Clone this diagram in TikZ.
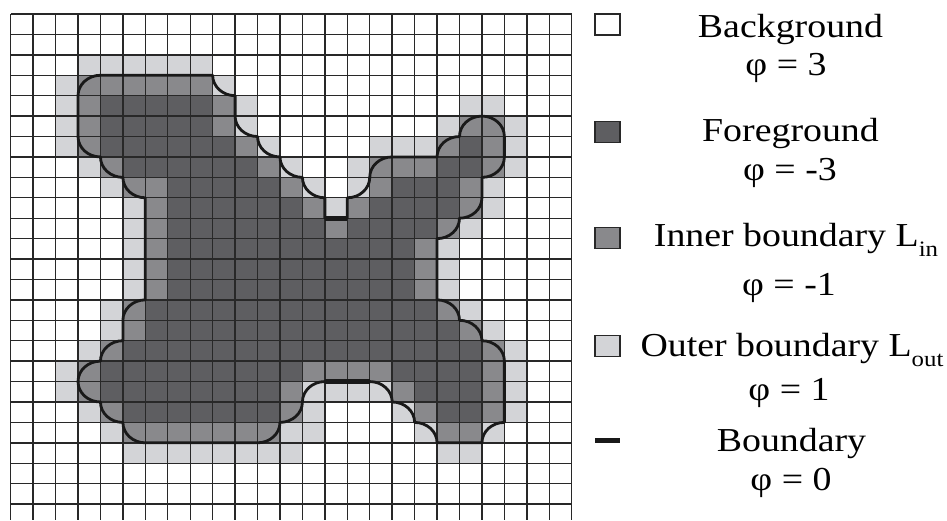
\documentclass[tikz,border=0pt]{standalone}
\usepackage{fontspec}
\setmainfont{Liberation Serif}[FakeStretch=1.13]
\definecolor{dk}{RGB}{94,94,97}
\definecolor{md}{RGB}{137,137,140}
\definecolor{lt}{RGB}{211,212,215}
\definecolor{gridc}{RGB}{40,40,40}
\definecolor{bndc}{RGB}{25,25,25}
% quarter arc from (#1,#2) to (#3,#4) with centre (#5,#6)
\newcommand\qa[6]{.. controls ({#1+0.5523*(#3-#5)},{#2+0.5523*(#4-#6)}) and ({#3+0.5523*(#1-#5)},{#4+0.5523*(#2-#6)}) .. (#3,#4)}
\tikzset{
  gridline/.style={draw=gridc, line width=1.4pt},
  bnd/.style={draw=bndc, line width=2.8pt, line join=round},
  bndthick/.style={draw=bndc, line width=4.8pt, line cap=butt},
  legbox/.style={draw=gridc, line width=1.3pt, minimum width=25pt, minimum height=21pt, inner sep=0pt},
  legtxt/.style={anchor=base, inner sep=0pt, font=\fontsize{33.5}{40}\selectfont},
}
\begin{document}
\begin{tikzpicture}[x=1pt,y=-1pt]
\useasboundingbox (0,0) rectangle (947,520);
\fill[white] (0,0) rectangle (947,520);
\begin{scope}[shift={(10.7pt,-14pt)}, x=22.44pt, y=-20.42pt]
  % foreground (phi = -3)
  \foreach \r/\a/\b in {4/4/8, 5/4/8, 6/4/9, 6/20/20, 7/5/10, 7/19/20, 8/7/11, 8/17/19, 9/7/12, 9/16/19, 10/7/13, 10/15/18, 11/7/17, 12/7/17, 13/7/17, 14/6/18, 15/6/19, 16/5/20, 17/4/12, 17/17/20, 18/4/11, 18/18/20, 19/5/11, 19/19/20}
    \fill[dk] (\a,\r) rectangle (\b+1,\r+1);
  % inner boundary (phi = -1)
  \foreach \r/\a/\b in {3/3/8, 4/3/3, 4/9/9, 5/3/3, 5/9/9, 5/20/21, 6/3/3, 6/10/10, 6/19/19, 6/21/21, 7/4/4, 7/11/11, 7/16/18, 7/21/21, 8/5/6, 8/12/12, 8/16/16, 8/20/20, 9/6/6, 9/13/13, 9/15/15, 9/20/20, 10/6/6, 10/14/14, 10/19/19, 11/6/6, 11/18/18, 12/6/6, 12/18/18, 13/6/6, 13/18/18, 14/5/5, 14/19/19, 15/5/5, 15/20/20, 16/4/4, 16/21/21, 17/3/3, 17/13/16, 17/21/21, 18/3/3, 18/12/12, 18/17/17, 18/21/21, 19/4/4, 19/12/12, 19/18/18, 19/21/21, 20/5/11, 20/19/20}
    \fill[md] (\a,\r) rectangle (\b+1,\r+1);
  % outer boundary (phi = 1)
  \foreach \r/\a/\b in {2/3/8, 3/2/2, 3/9/9, 4/2/2, 4/10/10, 4/20/21, 5/2/2, 5/10/10, 5/19/19, 5/22/22, 6/2/2, 6/11/11, 6/16/18, 6/22/22, 7/3/3, 7/12/12, 7/15/15, 7/22/22, 8/4/4, 8/13/13, 8/15/15, 8/21/21, 9/5/5, 9/14/14, 9/21/21, 10/5/5, 10/20/20, 11/5/5, 11/19/19, 12/5/5, 12/19/19, 13/5/5, 13/19/19, 14/4/4, 14/20/20, 15/4/4, 15/21/21, 16/3/3, 16/22/22, 17/2/2, 17/22/22, 18/2/2, 18/13/16, 18/22/22, 19/3/3, 19/13/13, 19/17/17, 19/22/22, 20/4/4, 20/12/13, 20/18/18, 20/21/21, 21/5/12, 21/19/20}
    \fill[lt] (\a,\r) rectangle (\b+1,\r+1);
  % grid
  \foreach \i in {0,...,25} \draw[gridline] (\i,0) -- (\i,24.8);
  \foreach \j in {0,...,24} \draw[gridline] (0,\j) -- (25,\j);
  % boundary curve (phi = 0)
  \draw[bnd] (3,4) \qa{3}{4}{4}{3}{4}{4} -- (9,3) \qa{9}{3}{10}{4}{10}{3} -- (10,5)
    \qa{10}{5}{11}{6}{11}{5} \qa{11}{6}{12}{7}{12}{6} \qa{12}{7}{13}{8}{13}{7} \qa{13}{8}{14}{9}{14}{8}
    -- (14,10) -- (15,10) -- (15,9)
    \qa{15}{9}{16}{8}{15}{8} \qa{16}{8}{17}{7}{17}{8} -- (19,7)
    \qa{19}{7}{20}{6}{20}{7} \qa{20}{6}{21}{5}{21}{6} \qa{21}{5}{22}{6}{21}{6} -- (22,7)
    \qa{22}{7}{21}{8}{21}{7} -- (21,9) \qa{21}{9}{20}{10}{20}{9} \qa{20}{10}{19}{11}{19}{10} -- (19,14)
    \qa{19}{14}{20}{15}{19}{15} \qa{20}{15}{21}{16}{20}{16} \qa{21}{16}{22}{17}{21}{17} -- (22,20)
    \qa{22}{20}{21}{21}{22}{21} -- (19,21)
    \qa{19}{21}{18}{20}{18}{21} \qa{18}{20}{17}{19}{17}{20} \qa{17}{19}{16}{18}{16}{19} -- (14,18)
    \qa{14}{18}{13}{19}{14}{19} \qa{13}{19}{12}{20}{12}{19} \qa{12}{20}{11}{21}{11}{20} -- (6,21)
    \qa{6}{21}{5}{20}{6}{20} \qa{5}{20}{4}{19}{5}{19} \qa{4}{19}{3}{18}{4}{18} \qa{3}{18}{4}{17}{4}{18}
    \qa{4}{17}{5}{16}{5}{17} -- (5,15) \qa{5}{15}{6}{14}{6}{15} -- (6,9)
    \qa{6}{9}{5}{8}{6}{8} \qa{5}{8}{4}{7}{5}{7} \qa{4}{7}{3}{6}{4}{6} -- cycle;
  \coordinate (n1) at (14,10); \coordinate (n2) at (15,10);
  \coordinate (n3) at (14,18); \coordinate (n4) at (16,18);
  \draw[bndthick] (n1) -- (n2);
  \draw[bndthick] (n3) -- (n4);
\end{scope}
% legend
\node[legbox, fill=white] (kbg) at (607.5,24.5) {};
\node[legbox, fill=dk] (kfg) at (607.5,132) {};
\node[legbox, fill=md] (kin) at (607.5,238) {};
\node[legbox, fill=lt] (kout) at (607.5,346) {};
\coordinate (kb1) at (595,440.5);
\coordinate (kb2) at (620,440.5);
\draw[bndc, line width=5pt] (kb1) -- (kb2);
\node[legtxt] (tbg) at (790.5,37.7) {Background};
\node[legtxt] (pbg) at (786,75) {φ = 3};
\node[legtxt] (tfg) at (790.5,141.7) {Foreground};
\node[legtxt] (pfg) at (790,180) {φ = -3};
\node[legtxt] (tin) at (796,246.7) {Inner boundary L\raisebox{-0.3em}{\fontsize{22}{22}\selectfont in}};
\node[legtxt] (pin) at (789,295) {φ = -1};
\node[legtxt] (tout) at (792,356.7) {Outer boundary L\raisebox{-0.3em}{\fontsize{22}{22}\selectfont out}};
\node[legtxt] (pout) at (789,400) {φ = 1};
\node[legtxt] (tbd) at (791.5,451.7) {Boundary};
\node[legtxt] (pbd) at (791,490) {φ = 0};
\end{tikzpicture}
\end{document}
